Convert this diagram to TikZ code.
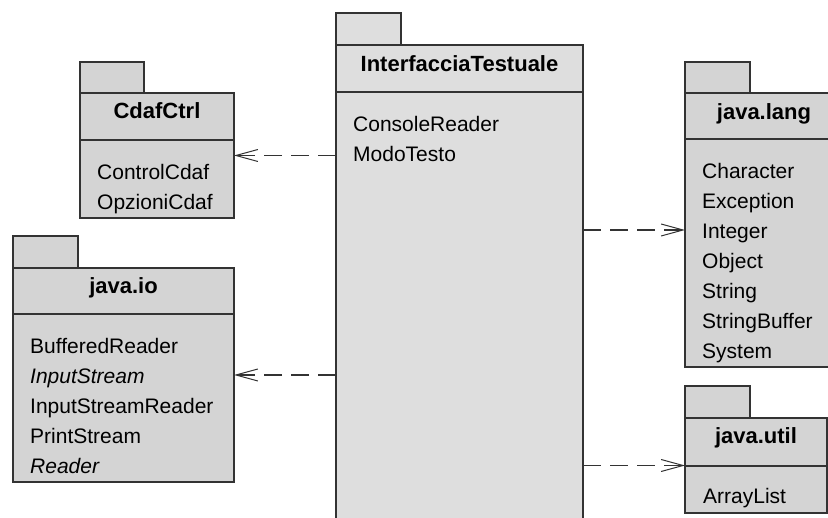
\documentclass[tikz,border=0pt]{standalone}
\usepackage{fontspec}
\setmainfont{Liberation Sans}
\usetikzlibrary{arrows.meta}
\definecolor{pkggray}{HTML}{D4D4D4}
\definecolor{ifacegray}{HTML}{DEDEDE}
\definecolor{pkgline}{HTML}{333333}
\tikzset{
  pkg/.style={draw=pkgline, line width=1.6pt, fill=pkggray, anchor=north west, inner sep=0pt, outer sep=0pt},
  sep/.style={draw=pkgline, line width=1.6pt},
  pkgtitle/.style={font=\fontsize{22}{26}\selectfont\bfseries, anchor=base, inner sep=0pt},
  pkgitem/.style={font=\fontsize{21}{25}\selectfont, anchor=base west, inner sep=0pt},
  dep/.style={draw=pkgline, line width=1.6pt, dash pattern=on 18pt off 9pt,
    -{Straight Barb[length=22pt,width=12pt,line width=1pt]}}
}
\begin{document}
\begin{tikzpicture}[x=1pt,y=-1pt]
                \useasboundingbox (0,0) rectangle (828,518);
                \clip (0,0) rectangle (828,518);
                % InterfacciaTestuale
                \node[pkg, fill=ifacegray, minimum width=65pt, minimum height=32pt] (ifacetab) at (336,13) {};
                \node[pkg, fill=ifacegray, minimum width=247pt, minimum height=500pt] (iface) at (336,45) {};
                \draw[sep] (336,92) -- (583,92);
                \node[pkgtitle] (ifacetitle) at (459.5,72) {InterfacciaTestuale};
                \foreach \t [count=\i] in {ConsoleReader, ModoTesto}
                    \node[pkgitem] (iface-\i) at (353,102+30*\i) {\t};
                % CdafCtrl
                \node[pkg, minimum width=64pt, minimum height=31pt] (cdaftab) at (80,62) {};
                \node[pkg, minimum width=154pt, minimum height=125pt] (cdaf) at (80,93) {};
                \draw[sep] (80,140) -- (234,140);
                \node[pkgtitle] (cdaftitle) at (157,119) {CdafCtrl};
                \foreach \t [count=\i] in {ControlCdaf, OpzioniCdaf}
                    \node[pkgitem] (cdaf-\i) at (97,150+30*\i) {\t};
                % java.io
                \node[pkg, minimum width=65pt, minimum height=32pt] (iotab) at (13,236) {};
                \node[pkg, minimum width=221pt, minimum height=214pt] (io) at (13,268) {};
                \draw[sep] (13,314) -- (234,314);
                \node[pkgtitle] (iotitle) at (123.5,294) {java.io};
                \foreach \t [count=\i] in {BufferedReader, \textit{InputStream}, InputStreamReader, PrintStream, \textit{Reader}}
                    \node[pkgitem] (io-\i) at (30,324+30*\i) {\t};
                % java.lang
                \node[pkg, minimum width=65pt, minimum height=31pt] (langtab) at (685,62) {};
                \node[pkg, minimum width=158pt, minimum height=274pt] (lang) at (685,93) {};
                \draw[sep] (685,139) -- (843,139);
                \node[pkgtitle] (langtitle) at (764,120) {java.lang};
                \foreach \t [count=\i] in {Character, Exception, Integer, Object, String, StringBuffer, System}
                    \node[pkgitem] (lang-\i) at (702,149+30*\i) {\t};
                % java.util
                \node[pkg, minimum width=65pt, minimum height=32pt] (utiltab) at (685,386) {};
                \node[pkg, minimum width=142pt, minimum height=95pt] (util) at (685,418) {};
                \draw[sep] (685,466) -- (827,466);
                \node[pkgtitle] (utiltitle) at (756,444) {java.util};
                \node[pkgitem] (util-1) at (703,504) {ArrayList};
                % dipendenze
                \draw[dep] (iface.west |- cdaf.east) -- (cdaf.east);
                \draw[dep] (iface.west |- io.east) -- (io.east);
                \draw[dep] (iface.east |- lang.west) -- (lang.west);
                \draw[dep] (iface.east |- util.west) -- (util.west);
\end{tikzpicture}
\end{document}
